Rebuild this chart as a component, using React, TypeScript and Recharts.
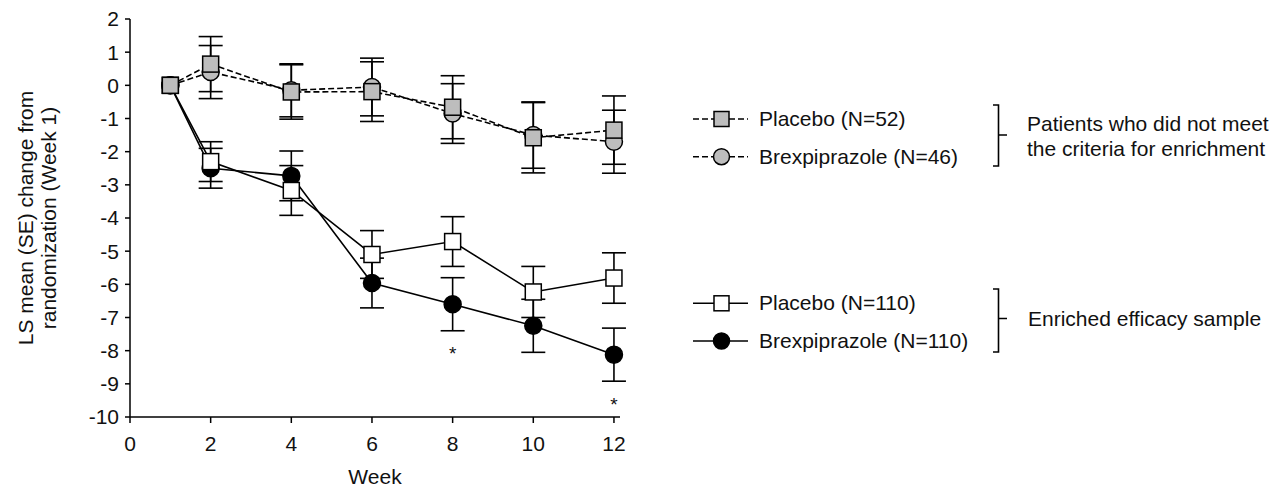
import React from 'react';
import { LineChart, Line, XAxis, YAxis, ErrorBar, Legend, LabelList } from 'recharts';

// ---- data ----
const weeks = [1, 2, 4, 6, 8, 10, 12];
const placebo52 = [0, 0.64, -0.2, -0.19, -0.66, -1.58, -1.35];
const placebo52SE = [0, 0.83, 0.82, 0.9, 0.95, 1.06, 1.03];
const brex46 = [0, 0.4, -0.15, -0.05, -0.85, -1.5, -1.7];
const brex46SE = [0, 0.8, 0.8, 0.87, 0.9, 1.0, 0.95];
const placebo110 = [0, -2.3, -3.17, -5.1, -4.71, -6.23, -5.81];
const placebo110SE = [0, 0.6, 0.75, 0.72, 0.75, 0.77, 0.76];
const brex110 = [0, -2.5, -2.73, -5.96, -6.6, -7.25, -8.12];
const brex110SE = [0, 0.6, 0.75, 0.75, 0.8, 0.8, 0.8];
const significant = [false, false, false, false, true, false, true];

const xTicks = [0, 2, 4, 6, 8, 10, 12];
const yTicks = [2, 1, 0, -1, -2, -3, -4, -5, -6, -7, -8, -9, -10];

const legendItems = [
  { name: 'Placebo (N=52)', shape: 'square', fill: '#bdbdbd', dashed: true },
  { name: 'Brexpiprazole (N=46)', shape: 'circle', fill: '#bdbdbd', dashed: true },
  { name: 'Placebo (N=110)', shape: 'square', fill: '#ffffff', dashed: false },
  { name: 'Brexpiprazole (N=110)', shape: 'circle', fill: '#000000', dashed: false },
];
const groupLabels = [
  ['Patients who did not meet', 'the criteria for enrichment'],
  ['Enriched efficacy sample'],
];

const data = weeks.map((w, i) => ({
  week: w,
  p52: placebo52[i],
  p52se: placebo52SE[i],
  b46: brex46[i],
  b46se: brex46SE[i],
  p110: placebo110[i],
  p110se: placebo110SE[i],
  b110: brex110[i],
  b110se: brex110SE[i],
}));

const FONT = '"Liberation Sans", Arial, sans-serif';
const INK = '#111';
const SQ = 16;
const R = 8.5;

const squareDot = (fill: string) => (p: any) => {
  if (p.cx == null || p.cy == null) return <g key={p.index} />;
  return (
    <rect
      key={p.index}
      x={p.cx - SQ / 2}
      y={p.cy - SQ / 2}
      width={SQ}
      height={SQ}
      fill={fill}
      stroke="#000"
      strokeWidth={1.5}
    />
  );
};
const circleDot = (fill: string) => (p: any) => {
  if (p.cx == null || p.cy == null) return <g key={p.index} />;
  return <circle key={p.index} cx={p.cx} cy={p.cy} r={R} fill={fill} stroke="#000" strokeWidth={1.5} />;
};

const YLabel = (props: any) => {
  const vb = props.viewBox || { x: 50, y: 19, width: 80, height: 398 };
  const cy = vb.y + vb.height / 2;
  const x1 = 25;
  const x2 = 48;
  return (
    <g>
      <text
        x={x1}
        y={cy}
        transform={`rotate(-90 ${x1} ${cy})`}
        textAnchor="middle"
        dominantBaseline="central"
        fontFamily={FONT}
        fontSize={21}
        fill={INK}
      >
        LS mean (SE) change from
      </text>
      <text
        x={x2}
        y={cy}
        transform={`rotate(-90 ${x2} ${cy})`}
        textAnchor="middle"
        dominantBaseline="central"
        fontFamily={FONT}
        fontSize={21}
        fill={INK}
      >
        randomization (Week 1)
      </text>
    </g>
  );
};

const StarLabel = (props: any) => {
  const { x, y, index } = props;
  if (!significant[index] || x == null || y == null) return null;
  return (
    <text x={x} y={y + 56} textAnchor="middle" fontFamily={FONT} fontSize={19} fill={INK}>
      *
    </text>
  );
};

const rowCenters = [119, 156.7, 303.3, 341];
const brackets = [
  { top: 105, bottom: 166, mid: 135, labelX: 1027, baselines: [131, 156] },
  { top: 289, bottom: 352, mid: 318.5, labelX: 1028, baselines: [326] },
];

const LegendContent = () => (
  <svg width={1283} height={490} style={{ position: 'absolute', left: 0, top: 0 }}>
    {legendItems.map((it, i) => {
      const cy = rowCenters[i];
      return (
        <g key={it.name}>
          <line
            x1={693}
            x2={748}
            y1={cy}
            y2={cy}
            stroke="#000"
            strokeWidth={1.6}
            strokeDasharray={it.dashed ? '6 3' : undefined}
          />
          {it.shape === 'square' ? (
            <rect x={721.5 - 7.5} y={cy - 7.5} width={15} height={15} fill={it.fill} stroke="#000" strokeWidth={1.5} />
          ) : (
            <circle cx={721.5} cy={cy} r={8} fill={it.fill} stroke="#000" strokeWidth={1.5} />
          )}
          <text x={759} y={cy + 7} fontFamily={FONT} fontSize={21} fill={INK}>
            {it.name}
          </text>
        </g>
      );
    })}
    {brackets.map((b, i) => (
      <g key={i}>
        <path
          d={`M993,${b.top} H998.5 V${b.bottom} H993 M998.5,${b.mid} H1007`}
          fill="none"
          stroke="#000"
          strokeWidth={1.6}
        />
        {groupLabels[i].map((t, j) => (
          <text key={t} x={b.labelX} y={b.baselines[j]} fontFamily={FONT} fontSize={21} fill={INK}>
            {t}
          </text>
        ))}
      </g>
    ))}
  </svg>
);

const axisLine = { stroke: '#000', strokeWidth: 1.5 };
const tickStyle = { fontFamily: FONT, fontSize: 21, fill: INK };

export default function App() {
  return (
    <div style={{ width: 1283, height: 490, position: 'relative' }}>
      <style>{'body{margin:0;}'}</style>
      <LineChart
        width={1283}
        height={490}
        data={data}
        margin={{ top: 19, right: 663, bottom: 3, left: 50 }}
      >
        <XAxis
          type="number"
          dataKey="week"
          domain={[0, 12.15]}
          ticks={xTicks}
          interval={0}
          height={70}
          tickSize={6}
          tickMargin={13}
          axisLine={axisLine}
          tickLine={axisLine}
          tick={tickStyle}
          label={{ value: 'Week', position: 'insideBottom', offset: 3, fontFamily: FONT, fontSize: 21, fill: INK }}
        />
        <YAxis
          type="number"
          domain={[-10, 2]}
          ticks={yTicks}
          interval={0}
          width={80}
          tickSize={5}
          tickMargin={6}
          axisLine={axisLine}
          tickLine={axisLine}
          tick={tickStyle}
          label={<YLabel />}
        />
        <Legend
          layout="horizontal"
          verticalAlign="middle"
          align="center"
          content={LegendContent}
          wrapperStyle={{ left: 0, top: 0, width: 1283, height: 490, pointerEvents: 'none' }}
        />
        <Line
          dataKey="b110"
          stroke="#000"
          strokeWidth={1.6}
          isAnimationActive={false}
          dot={circleDot('#000')}
          activeDot={false}
        >
          <ErrorBar dataKey="b110se" width={12} stroke="#000" strokeWidth={1.6} direction="y" />
          <LabelList dataKey="b110" content={StarLabel} />
        </Line>
        <Line
          dataKey="p110"
          stroke="#000"
          strokeWidth={1.6}
          isAnimationActive={false}
          dot={squareDot('#fff')}
          activeDot={false}
        >
          <ErrorBar dataKey="p110se" width={12} stroke="#000" strokeWidth={1.6} direction="y" />
        </Line>
        <Line
          dataKey="b46"
          stroke="#000"
          strokeWidth={1.6}
          strokeDasharray="6 3"
          isAnimationActive={false}
          dot={circleDot('#bdbdbd')}
          activeDot={false}
        >
          <ErrorBar dataKey="b46se" width={12} stroke="#000" strokeWidth={1.6} direction="y" />
        </Line>
        <Line
          dataKey="p52"
          stroke="#000"
          strokeWidth={1.6}
          strokeDasharray="6 3"
          isAnimationActive={false}
          dot={squareDot('#bdbdbd')}
          activeDot={false}
        >
          <ErrorBar dataKey="p52se" width={12} stroke="#000" strokeWidth={1.6} direction="y" />
        </Line>
      </LineChart>
    </div>
  );
}
